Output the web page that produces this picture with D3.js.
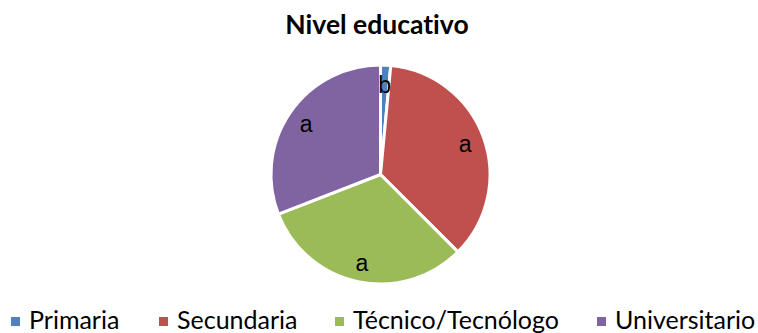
<!DOCTYPE html>
<html>
<head>
<meta charset="utf-8">
<script src="https://cdn.jsdelivr.net/npm/d3@7"></script>
<style>
  html, body { margin: 0; padding: 0; background: #fff; }
  svg { display: block; }
  text { font-variant-ligatures: none; }
</style>
</head>
<body>
<svg id="chart" width="758" height="333"></svg>
<script>
// Distribución por nivel educativo (porcentajes) y letras de agrupación
const categories = ["Primaria", "Secundaria", "Técnico/Tecnólogo", "Universitario"];
const values = [1.5, 36.0, 31.6, 30.9];
const groupLetters = ["b", "a", "a", "a"];
const colors = ["#4F81BD", "#C0504D", "#9BBB59", "#8064A2"];
const title = "Nivel educativo";

const svg = d3.select("#chart");
const cx = 380.5, cy = 174.5, radius = 109.5;

// Título
svg.append("text")
  .attr("x", 377)
  .attr("y", 34)
  .attr("text-anchor", "middle")
  .attr("font-family", "Lato, 'Open Sans', sans-serif")
  .attr("font-weight", "bold")
  .attr("font-size", 26.5)
  .attr("fill", "#000")
  .text(title);

const data = categories.map((c, i) => ({ cat: c, value: values[i], letter: groupLetters[i], color: colors[i] }));

const pie = d3.pie().sort(null).value(d => d.value).startAngle(0).endAngle(2 * Math.PI);
const arc = d3.arc().innerRadius(0).outerRadius(radius);
const labelArc = d3.arc().innerRadius(90).outerRadius(90);

const g = svg.append("g").attr("transform", `translate(${cx},${cy})`);
const arcs = pie(data);

g.selectAll("path.slice")
  .data(arcs)
  .join("path")
  .attr("class", "slice")
  .attr("d", arc)
  .attr("fill", d => d.data.color)
  .attr("stroke", "#fff")
  .attr("stroke-width", 3)
  .attr("stroke-linejoin", "round");

g.selectAll("text.lbl")
  .data(arcs)
  .join("text")
  .attr("class", "lbl")
  .attr("transform", d => `translate(${labelArc.centroid(d)})`)
  .attr("text-anchor", "middle")
  .attr("dy", "0.35em")
  .attr("font-family", "'Liberation Sans', Arial, sans-serif")
  .attr("font-size", 23)
  .attr("fill", "#000")
  .text(d => d.data.letter);

// Leyenda
const legendX = [11, 159, 335, 597];
const legend = svg.append("g");
const items = legend.selectAll("g.item")
  .data(data)
  .join("g")
  .attr("class", "item")
  .attr("transform", (d, i) => `translate(${legendX[i]},0)`);

items.append("rect")
  .attr("x", 0)
  .attr("y", 317)
  .attr("width", 9)
  .attr("height", 9)
  .attr("fill", d => d.color);

items.append("text")
  .attr("x", 18)
  .attr("y", 329)
  .attr("font-family", "Lato, 'Open Sans', sans-serif")
  .attr("font-size", 25)
  .attr("fill", "#000")
  .text(d => d.cat);
</script>
</body>
</html>
